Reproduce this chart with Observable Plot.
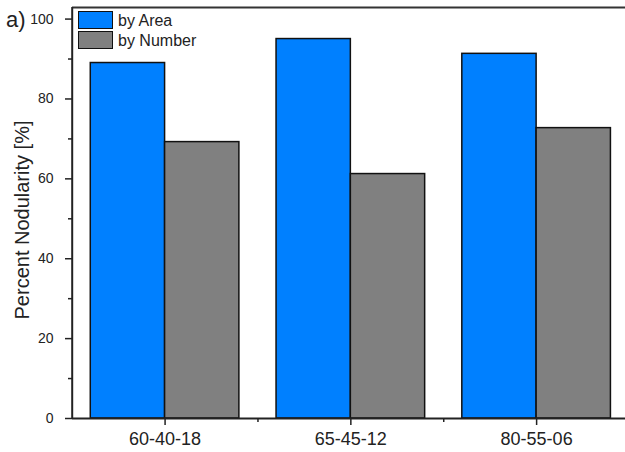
<!DOCTYPE html>
<html><head><meta charset="utf-8">
<script src="https://cdn.jsdelivr.net/npm/d3@7"></script>
<script src="https://cdn.jsdelivr.net/npm/@observablehq/plot@0.6"></script>
<style>
html,body{margin:0;padding:0;background:#fff;overflow:hidden}
#wrap{position:relative;width:625px;height:452px;overflow:hidden;font-family:"Liberation Sans",Arial,sans-serif;color:#222}
.lg-box{position:absolute;left:78px;width:33px;height:16px;border:1.5px solid #111}
.lg-txt{position:absolute;left:118px;font-size:16px;line-height:18px;white-space:nowrap}
#ytitle{position:absolute;left:22px;top:220px;font-size:20px;line-height:20px;white-space:nowrap;transform:translate(-50%,-50%) rotate(-90deg)}
#panel{position:absolute;left:6px;top:7px;font-size:22px;line-height:26px}
</style></head><body>
<div id="wrap"></div>
<script>
const categories = ["60-40-18", "65-45-12", "80-55-06"];
const seriesNames = ["by Area", "by Number"];
const byArea = [89.0, 95.0, 91.3];
const byNumber = [69.2, 61.2, 72.7];
const seriesColors = ["#0080ff", "#808080"];
const yTicks = [0, 20, 40, 60, 80, 100];
const yMinorTicks = [10, 30, 50, 70, 90];
const yTitle = "Percent Nodularity [%]";
const panelLabel = "a)";

const yMax = 102.9;
const xDomain = [0.5, 3.5];
const barW = 0.4;

const rows = categories.flatMap((c, i) => [
  {cat: c, idx: i + 1, series: seriesNames[0], value: byArea[i], side: -1},
  {cat: c, idx: i + 1, series: seriesNames[1], value: byNumber[i], side: 1}
]);
const xMajor = categories.map((c, i) => i + 1);
const xMinor = categories.slice(1).map((c, i) => i + 1.5);

const font = '"Liberation Sans", Arial, sans-serif';

const chart = Plot.plot({
  width: 625,
  height: 452,
  marginLeft: 72,
  marginRight: 0,
  marginTop: 7,
  marginBottom: 34,
  style: {fontFamily: font, color: "#222", background: "#fff", overflow: "visible"},
  x: {domain: xDomain, range: [71.7, 629]},
  y: {domain: [0, yMax]},
  color: {domain: seriesNames, range: seriesColors},
  marks: [
    Plot.rect(rows, {
      x1: d => d.side < 0 ? d.idx - barW : d.idx,
      x2: d => d.side < 0 ? d.idx : d.idx + barW,
      y1: d => 0,
      y2: "value",
      fill: "series",
      stroke: "#111",
      strokeWidth: 1.5
    }),
    Plot.ruleY([0], {stroke: "#222", strokeWidth: 2}),
    Plot.ruleY([yMax], {stroke: "#333", strokeWidth: 2}),
    Plot.ruleX([xDomain[0]], {stroke: "#222", strokeWidth: 2}),
    Plot.axisY({ticks: yTicks, tickSize: 7, tickPadding: 12, fontSize: 14, label: null, strokeWidth: 1.5, stroke: "#222"}),
    Plot.axisY({ticks: yMinorTicks, tickSize: 4, tickFormat: () => "", label: null, strokeWidth: 1.5, stroke: "#222"}),
    Plot.axisX({ticks: xMajor, tickFormat: i => categories[i - 1], tickSize: 7, tickPadding: 7, fontSize: 18, label: null, strokeWidth: 1.5, stroke: "#222"}),
    Plot.axisX({ticks: xMinor, tickSize: 4, tickFormat: () => "", label: null, strokeWidth: 1.5, stroke: "#222"})
  ]
});

const wrap = document.getElementById("wrap");
wrap.appendChild(chart);

const yt = document.createElement("div");
yt.id = "ytitle";
yt.textContent = yTitle;
wrap.appendChild(yt);

const pl = document.createElement("div");
pl.id = "panel";
pl.textContent = panelLabel;
wrap.appendChild(pl);

seriesNames.forEach((name, i) => {
  const box = document.createElement("div");
  box.className = "lg-box";
  box.style.top = (11 + i * 20) + "px";
  box.style.background = seriesColors[i];
  wrap.appendChild(box);
  const t = document.createElement("div");
  t.className = "lg-txt";
  t.style.top = (11.5 + i * 20) + "px";
  t.textContent = name;
  wrap.appendChild(t);
});
</script>
</body></html>
